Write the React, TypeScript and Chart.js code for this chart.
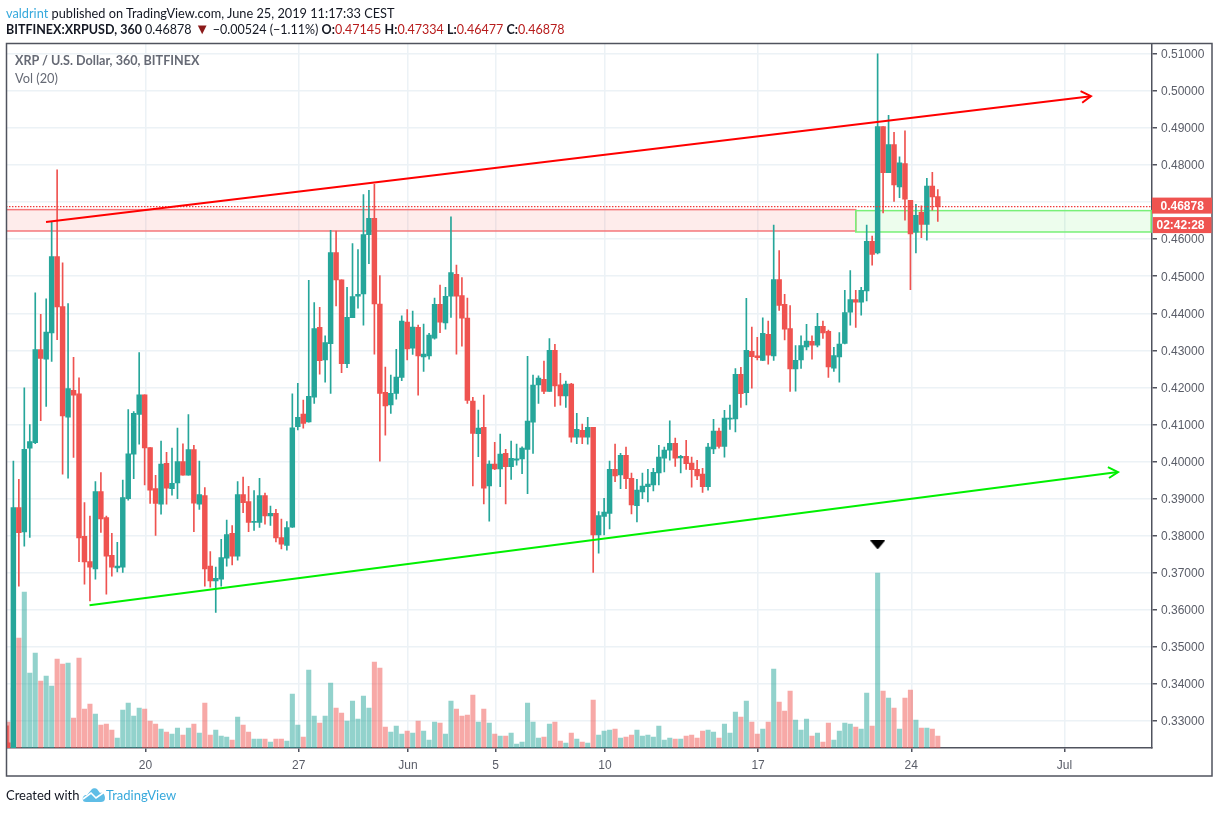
import { useEffect, useRef } from "react";
import { Chart, registerables } from "chart.js";

Chart.register(...registerables);

// 6h candles, XRP/USD, first bar is cut off by the left edge
const opens = [
  0.3241, 0.3225, 0.3876, 0.3810, 0.4036, 0.4051, 0.4302, 0.4276, 0.4347, 0.4553, 0.4418, 0.4120, 0.4192, 0.4183, 0.3798, 0.3730, 0.3710, 0.3919, 0.3849, 0.3747,
  0.3713, 0.3715, 0.3900, 0.4020, 0.4127, 0.4180, 0.4038, 0.3927, 0.3885, 0.3995, 0.3927, 0.3942, 0.4000, 0.3963, 0.4032, 0.3885, 0.3908, 0.3718, 0.3678, 0.3683,
  0.3739, 0.3806, 0.3745, 0.3911, 0.3892, 0.3836, 0.3836, 0.3908, 0.3853, 0.3860, 0.3795, 0.3774, 0.3823, 0.4094, 0.4128, 0.4107, 0.4174, 0.4362, 0.4274, 0.4318,
  0.4564, 0.4490, 0.4264, 0.4388, 0.4446, 0.4452, 0.4612, 0.4656, 0.4425, 0.4187, 0.4153, 0.4184, 0.4227, 0.4376, 0.4306, 0.4362, 0.4282, 0.4285, 0.4333, 0.4424,
  0.4374, 0.4446, 0.4505, 0.4448, 0.4387, 0.4163, 0.4075, 0.4092, 0.3934, 0.3993, 0.3980, 0.4022, 0.3986, 0.4004, 0.4007, 0.4033, 0.4106, 0.4207, 0.4222, 0.4189,
  0.4300, 0.4207, 0.4177, 0.4209, 0.4066, 0.4084, 0.4066, 0.4092, 0.3802, 0.3852, 0.3860, 0.3979, 0.3964, 0.4017, 0.3955, 0.3881, 0.3918, 0.3932, 0.3937, 0.3969,
  0.4009, 0.4031, 0.4049, 0.4010, 0.4014, 0.3996, 0.3979, 0.3966, 0.3932, 0.4034, 0.4082, 0.4041, 0.4114, 0.4115, 0.4235, 0.4186, 0.4297, 0.4285, 0.4273, 0.4343,
  0.4285, 0.4491, 0.4424, 0.4359, 0.4250, 0.4274, 0.4309, 0.4324, 0.4314, 0.4365, 0.4351, 0.4252, 0.4282, 0.4319, 0.4403, 0.4437, 0.4430, 0.4460, 0.4594, 0.4563,
  0.4904, 0.4779, 0.4855, 0.4741, 0.4804, 0.4705, 0.4619, 0.4672, 0.4640, 0.4743, 0.47145,
];
const highs = [
  0.3287, 0.4001, 0.3952, 0.4199, 0.4100, 0.4455, 0.4397, 0.4439, 0.4646, 0.4787, 0.4536, 0.4426, 0.4281, 0.4226, 0.3889, 0.3853, 0.3946, 0.3970, 0.3853, 0.3806,
  0.3782, 0.3950, 0.4140, 0.4135, 0.4294, 0.4180, 0.4038, 0.3963, 0.4055, 0.4025, 0.4036, 0.4090, 0.4048, 0.4127, 0.4044, 0.4001, 0.3930, 0.3757, 0.3715, 0.3790,
  0.3842, 0.3827, 0.3946, 0.3958, 0.3933, 0.3922, 0.3955, 0.3915, 0.3880, 0.3871, 0.3845, 0.3838, 0.4183, 0.4211, 0.4166, 0.4489, 0.4429, 0.4416, 0.4339, 0.4624,
  0.4622, 0.4490, 0.4470, 0.4588, 0.4572, 0.4720, 0.4732, 0.4748, 0.4502, 0.4255, 0.4233, 0.4303, 0.4393, 0.4410, 0.4406, 0.4368, 0.4371, 0.4346, 0.4441, 0.4476,
  0.4470, 0.4660, 0.4530, 0.4496, 0.4441, 0.4173, 0.4139, 0.4179, 0.4002, 0.4052, 0.4074, 0.4033, 0.4055, 0.4047, 0.4040, 0.4284, 0.4233, 0.4231, 0.4271, 0.4332,
  0.4316, 0.4238, 0.4217, 0.4211, 0.4130, 0.4101, 0.4119, 0.4092, 0.3865, 0.3901, 0.4001, 0.4047, 0.4022, 0.4039, 0.3969, 0.3952, 0.3969, 0.3979, 0.3982, 0.4044,
  0.4039, 0.4110, 0.4063, 0.4017, 0.4057, 0.4012, 0.4003, 0.3982, 0.4049, 0.4114, 0.4090, 0.4138, 0.4152, 0.4251, 0.4254, 0.4440, 0.4363, 0.4335, 0.4388, 0.4379,
  0.4638, 0.4569, 0.4451, 0.4421, 0.4313, 0.4339, 0.4370, 0.4339, 0.4400, 0.4379, 0.4355, 0.4308, 0.4348, 0.4462, 0.4515, 0.4462, 0.4470, 0.4638, 0.4608, 0.5100,
  0.4904, 0.4934, 0.4888, 0.4822, 0.4892, 0.4705, 0.4694, 0.4690, 0.4764, 0.4780, 0.47334,
];
const lows = [
  0.3225, 0.3225, 0.3664, 0.3772, 0.3795, 0.4048, 0.4110, 0.4149, 0.4270, 0.4329, 0.3966, 0.3955, 0.4011, 0.3730, 0.3669, 0.3624, 0.3683, 0.3809, 0.3642, 0.3691,
  0.3702, 0.3701, 0.3896, 0.3954, 0.4047, 0.3937, 0.3887, 0.3801, 0.3858, 0.3885, 0.3909, 0.3900, 0.3963, 0.3963, 0.3811, 0.3871, 0.3664, 0.3661, 0.3593, 0.3664,
  0.3718, 0.3721, 0.3734, 0.3862, 0.3811, 0.3814, 0.3822, 0.3831, 0.3828, 0.3783, 0.3764, 0.3761, 0.3822, 0.4085, 0.4090, 0.4106, 0.4157, 0.4236, 0.4214, 0.4184,
  0.4420, 0.4240, 0.4253, 0.4388, 0.4414, 0.4368, 0.4534, 0.4290, 0.4001, 0.4071, 0.4130, 0.4168, 0.4218, 0.4274, 0.4289, 0.4179, 0.4243, 0.4276, 0.4330, 0.4348,
  0.4357, 0.4389, 0.4290, 0.4311, 0.4157, 0.3934, 0.4013, 0.3886, 0.3839, 0.3978, 0.3932, 0.3886, 0.3952, 0.3990, 0.3967, 0.3913, 0.4022, 0.4157, 0.4183, 0.4189,
  0.4149, 0.4152, 0.4146, 0.4052, 0.4048, 0.4048, 0.4047, 0.3701, 0.3753, 0.3802, 0.3818, 0.3946, 0.3927, 0.3927, 0.3859, 0.3837, 0.3900, 0.3891, 0.3921, 0.3937,
  0.3972, 0.4004, 0.3987, 0.3969, 0.3979, 0.3931, 0.3951, 0.3917, 0.3923, 0.4021, 0.4036, 0.4012, 0.4087, 0.4080, 0.4146, 0.4153, 0.4198, 0.4274, 0.4272, 0.4263,
  0.4273, 0.4408, 0.4328, 0.4189, 0.4190, 0.4251, 0.4301, 0.4276, 0.4309, 0.4332, 0.4227, 0.4243, 0.4214, 0.4317, 0.4368, 0.4362, 0.4395, 0.4433, 0.4530, 0.4560,
  0.4671, 0.4779, 0.4702, 0.4712, 0.4651, 0.4464, 0.4563, 0.4604, 0.4597, 0.4678, 0.46477,
];
const closes = [
  0.3225, 0.3876, 0.3808, 0.4033, 0.4054, 0.4302, 0.4278, 0.4349, 0.4553, 0.4417, 0.4123, 0.4197, 0.4179, 0.3794, 0.3729, 0.3715, 0.3919, 0.3845, 0.3745, 0.3715,
  0.3718, 0.3903, 0.4021, 0.4130, 0.4180, 0.4037, 0.3923, 0.3887, 0.3993, 0.3928, 0.3941, 0.4000, 0.3963, 0.4032, 0.3888, 0.3911, 0.3710, 0.3678, 0.3685, 0.3741,
  0.3803, 0.3745, 0.3911, 0.3889, 0.3836, 0.3839, 0.3908, 0.3853, 0.3860, 0.3794, 0.3777, 0.3822, 0.4091, 0.4119, 0.4103, 0.4176, 0.4359, 0.4272, 0.4321, 0.4564,
  0.4490, 0.4264, 0.4389, 0.4445, 0.4451, 0.4612, 0.4656, 0.4425, 0.4184, 0.4150, 0.4184, 0.4228, 0.4379, 0.4304, 0.4363, 0.4285, 0.4290, 0.4341, 0.4424, 0.4376,
  0.4446, 0.4510, 0.4446, 0.4387, 0.4165, 0.4076, 0.4090, 0.3928, 0.3993, 0.3980, 0.4020, 0.3986, 0.4009, 0.4007, 0.4036, 0.4109, 0.4206, 0.4225, 0.4189, 0.4300,
  0.4204, 0.4177, 0.4209, 0.4066, 0.4087, 0.4066, 0.4092, 0.3802, 0.3854, 0.3864, 0.3979, 0.3961, 0.4017, 0.3954, 0.3883, 0.3923, 0.3934, 0.3939, 0.3971, 0.4012,
  0.4031, 0.4049, 0.4009, 0.4014, 0.3994, 0.3978, 0.3961, 0.3932, 0.4039, 0.4082, 0.4041, 0.4117, 0.4117, 0.4235, 0.4183, 0.4300, 0.4283, 0.4280, 0.4346, 0.4287,
  0.4491, 0.4421, 0.4357, 0.4250, 0.4273, 0.4313, 0.4325, 0.4314, 0.4365, 0.4347, 0.4255, 0.4286, 0.4317, 0.4402, 0.4437, 0.4430, 0.4462, 0.4594, 0.4559, 0.4904,
  0.4779, 0.4855, 0.4746, 0.4806, 0.4708, 0.4614, 0.4664, 0.4640, 0.4743, 0.4714, 0.46878,
];
const volumes = [
  26, 60, 110, 156, 75, 95, 67, 72, 62, 89, 84, 85, 30, 90, 39, 44, 34, 23, 24, 18,
  10, 38, 45, 32, 40, 39, 27, 24, 19, 16, 14, 20, 13, 20, 24, 15, 45, 13, 18, 12,
  11, 8, 31, 23, 16, 9, 9, 9, 6, 9, 9, 7, 54, 23, 11, 78, 32, 25, 32, 65,
  40, 35, 27, 47, 29, 52, 40, 86, 80, 21, 16, 22, 14, 17, 15, 27, 17, 8, 26, 25,
  14, 47, 39, 32, 33, 53, 26, 39, 25, 14, 12, 12, 15, 4, 6, 45, 26, 10, 11, 24,
  26, 7, 5, 15, 9, 6, 5, 48, 13, 17, 18, 19, 10, 11, 13, 18, 12, 13, 11, 22,
  8, 10, 9, 9, 12, 13, 10, 17, 18, 16, 10, 24, 15, 36, 31, 47, 26, 14, 19, 26,
  79, 46, 37, 57, 28, 18, 29, 12, 15, 6, 25, 8, 17, 25, 24, 21, 19, 55, 22, 175,
  57, 50, 40, 19, 50, 58, 28, 20, 20, 19, 12,
];

const priceTicks = [0.33, 0.34, 0.35, 0.36, 0.37, 0.38, 0.39, 0.4, 0.41, 0.42, 0.43, 0.44, 0.45, 0.46, 0.47, 0.48, 0.49, 0.5, 0.51];
const hiddenPriceLabel = 0.47; // sits under the last price tag
const dateTickBars = [25.15, 53.15, 73.15, 89.15, 109.15, 137.15, 165.15, 193.15];
const dateTickLabels = ["20", "27", "Jun", "5", "10", "17", "24", "Jul"];

// drawings, in bar index / price
const redTrend = [{ x: 6.97, y: 0.46462 }, { x: 198, y: 0.49857 }];
const redArrow = [{ x: 196.1, y: 0.49992 }, { x: 198, y: 0.49857 }, { x: 196.4, y: 0.4968 }];
const greenTrend = [{ x: 14.92, y: 0.3612 }, { x: 202.95, y: 0.39717 }];
const greenArrow = [{ x: 201.1, y: 0.39852 }, { x: 202.95, y: 0.39717 }, { x: 201.3, y: 0.39556 }];
const lastPrice = 0.46878;
const redZone = { from: -2, to: 155, top: 0.46796, bottom: 0.4622 };
const greenZone = { from: 155, to: 209, top: 0.46769, bottom: 0.46193 };
const markerBar = 159;
const markerPrice = 0.3775;

const UP = "#26a69a";
const DOWN = "#ef5350";
const UP_VOL = "rgba(38,166,154,0.5)";
const DOWN_VOL = "rgba(239,83,80,0.5)";
const GRID = "#ecf2f6";
const FRAME = "#50535e";
const AXIS_TEXT = "#5a5d68";
const AXIS_FONT = "'Liberation Sans', Arial, sans-serif";

const bars = opens.map((_, i) => i);
const isUp = (i: number) => closes[i] >= opens[i];

function makeMarker() {
  const c = document.createElement("canvas");
  c.width = 15;
  c.height = 9;
  const g = c.getContext("2d");
  if (g) {
    g.fillStyle = "#000";
    g.beginPath();
    g.moveTo(0, 0);
    g.lineTo(15, 0);
    g.lineTo(7.5, 9);
    g.closePath();
    g.fill();
  }
  return c;
}

const drawZones = {
  id: "drawZones",
  beforeDatasetsDraw(chart: any) {
    const { ctx, chartArea, scales } = chart;
    const zone = (z: typeof redZone, fill: string, line: string) => {
      const x0 = scales.x.getPixelForValue(z.from);
      const x1 = scales.x.getPixelForValue(z.to);
      const y0 = scales.y.getPixelForValue(z.top);
      const y1 = scales.y.getPixelForValue(z.bottom);
      ctx.fillStyle = fill;
      ctx.fillRect(x0, y0, x1 - x0, y1 - y0);
      ctx.strokeStyle = line;
      ctx.lineWidth = 1.5;
      ctx.strokeRect(x0, y0, x1 - x0, y1 - y0);
    };
    ctx.save();
    ctx.beginPath();
    ctx.rect(chartArea.left, chartArea.top, chartArea.right - chartArea.left, chartArea.bottom - chartArea.top);
    ctx.clip();
    zone(redZone, "rgba(244,67,54,0.1)", "#f5777a");
    zone(greenZone, "rgba(0,230,0,0.07)", "#78f078");
    ctx.restore();
  },
};

const drawFrame = {
  id: "drawFrame",
  afterDraw(chart: any) {
    const { ctx, chartArea, scales } = chart;
    const right = scales.y.right;
    const bottom = scales.x.bottom;
    ctx.save();
    ctx.strokeStyle = FRAME;
    ctx.lineWidth = 1.5;
    ctx.strokeRect(chartArea.left, chartArea.top, right - chartArea.left, bottom - chartArea.top);

    // price and countdown tags on the axis
    const y = scales.y.getPixelForValue(lastPrice);
    ctx.fillStyle = DOWN;
    ctx.fillRect(chartArea.right, y - 9, 60, 16);
    ctx.fillRect(chartArea.right + 1, y + 10.5, 58.5, 16);
    ctx.fillStyle = "#fff";
    ctx.font = `bold 12px ${AXIS_FONT}`;
    ctx.textAlign = "left";
    ctx.textBaseline = "middle";
    ctx.fillText(lastPrice.toFixed(5), chartArea.right + 8.5, y);
    ctx.fillText("02:42:28", chartArea.right + 4.5, y + 19);
    ctx.restore();
  },
};

const textStyle = { position: "absolute", whiteSpace: "nowrap", fontFamily: "Lato, sans-serif" } as const;

export default function App() {
  const chartRef = useRef<HTMLCanvasElement | null>(null);

  useEffect(() => {
    if (!chartRef.current) return;
    const myChart = new Chart(chartRef.current, {
      type: "bar",
      data: {
        datasets: [
          { type: "line", data: redTrend, borderColor: "#ff0000", borderWidth: 2, pointRadius: 0, order: 1 },
          { type: "line", data: redArrow, borderColor: "#ff0000", borderWidth: 2, pointRadius: 0, order: 1 },
          { type: "line", data: greenTrend, borderColor: "#00f000", borderWidth: 2, pointRadius: 0, order: 1 },
          { type: "line", data: greenArrow, borderColor: "#00f000", borderWidth: 2, pointRadius: 0, order: 1 },
          {
            type: "line",
            data: [{ x: -2, y: lastPrice }, { x: 212, y: lastPrice }],
            borderColor: "#f03a3a",
            borderWidth: 1.2,
            borderDash: [1.5, 1.5],
            pointRadius: 0,
            order: 2,
          },
          {
            type: "scatter",
            data: [{ x: markerBar, y: markerPrice }],
            pointStyle: makeMarker(),
            order: 1,
          },
          {
            data: bars.map((i) => ({ x: i, y: [opens[i], closes[i]] })),
            backgroundColor: bars.map((i) => (isUp(i) ? UP : DOWN)),
            barThickness: 4.8,
            minBarLength: 1,
            order: 3,
          },
          {
            data: bars.map((i) => ({ x: i, y: [lows[i], highs[i]] })),
            backgroundColor: bars.map((i) => (isUp(i) ? UP : DOWN)),
            barThickness: 1,
            order: 4,
          },
          {
            data: bars.map((i) => ({ x: i, y: volumes[i] })),
            yAxisID: "vol",
            backgroundColor: bars.map((i) => (isUp(i) ? UP_VOL : DOWN_VOL)),
            barThickness: 4.4,
            order: 5,
          },
        ] as any,
      },
      options: {
        responsive: false,
        animation: false,
        layout: { padding: { left: 6.5, top: 43.5, right: 7, bottom: 37 } },
        datasets: { bar: { grouped: false } },
        plugins: { legend: { display: false }, tooltip: { enabled: false } },
        scales: {
          x: {
            type: "linear",
            offset: false,
            min: -0.256,
            max: 209.16,
            afterFit: (s: any) => {
              s.height = 28;
            },
            afterBuildTicks: (s: any) => {
              s.ticks = dateTickBars.map((value) => ({ value }));
            },
            grid: { color: GRID, lineWidth: 1.5, tickColor: FRAME, tickLength: 4, offset: false },
            border: { color: FRAME, width: 1.5 },
            ticks: {
              autoSkip: false,
              maxRotation: 0,
              padding: 6,
              color: AXIS_TEXT,
              font: { family: AXIS_FONT, size: 12 },
              callback: (_v: any, i: number) => dateTickLabels[i],
            },
          },
          y: {
            position: "right",
            min: 0.32272,
            max: 0.51278,
            afterFit: (s: any) => {
              s.width = 60;
            },
            afterBuildTicks: (s: any) => {
              s.ticks = priceTicks.map((value) => ({ value }));
            },
            grid: { color: GRID, lineWidth: 1.5, tickColor: FRAME, tickLength: 5 },
            border: { color: FRAME, width: 1.5 },
            ticks: {
              autoSkip: false,
              padding: 4,
              labelOffset: 1,
              color: AXIS_TEXT,
              font: { family: AXIS_FONT, size: 12 },
              callback: (v: any) => (v === hiddenPriceLabel ? "" : Number(v).toFixed(5)),
            },
          },
          vol: { display: false, min: 0, max: 704.5 },
        },
      } as any,
      plugins: [drawZones, drawFrame],
    });
    return () => myChart.destroy();
  }, []);

  return (
    <div style={{ position: "fixed", left: 0, top: 0, width: 1219, height: 813, background: "#fff", overflow: "hidden" }}>
      <canvas ref={chartRef} width={1219} height={813} style={{ position: "absolute", left: 0, top: 0 }} />
      <div style={{ ...textStyle, left: 6, top: 5, fontSize: 12.75, color: "#131722" }}>
        <span style={{ color: "#37a9dc" }}>valdrint</span> published on TradingView.com, June 25, 2019 11:17:33 CEST
      </div>
      <div style={{ ...textStyle, left: 6, top: 22, fontSize: 12.5, color: "#131722" }}>
        <b>BITFINEX:XRPUSD, 360</b> 0.46878 <span style={{ color: "#8b1a1a", fontSize: 15, lineHeight: 0 }}>▼</span> −0.00524 (−1.11%){" "}
        <b>O:</b><span style={{ color: "#b71c1c" }}>0.47145</span> <b>H:</b><span style={{ color: "#b71c1c" }}>0.47334</span>{" "}
        <b>L:</b><span style={{ color: "#b71c1c" }}>0.46477</span> <b>C:</b><span style={{ color: "#b71c1c" }}>0.46878</span>
      </div>
      <div style={{ ...textStyle, left: 15, top: 53, fontSize: 12.6, fontWeight: 700, color: "#666a75" }}>XRP / U.S. Dollar, 360, BITFINEX</div>
      <div style={{ ...textStyle, left: 15, top: 70, fontSize: 12.8, color: "#666a75" }}>Vol (20)</div>
      <div style={{ ...textStyle, left: 6, top: 787, fontSize: 13, color: "#131722" }}>Created with</div>
      <svg width="23" height="14" viewBox="0 0 23 14" style={{ position: "absolute", left: 82, top: 788 }}>
        <path d="M1 12 C0 9 2 7 5 7 L10 1 C11 0 14 0 15 1 L18 5 C21 4 23 7 23 10 C23 13 21 14 19 14 L4 14 C2 14 1 13 1 12 Z" fill="#5fbde6" />
        <path d="M1 11 L9 5 L14 10 L21 5" fill="none" stroke="#fff" strokeWidth="1.6" />
      </svg>
      <div style={{ ...textStyle, left: 106, top: 787, fontSize: 13, color: "#37a9dc" }}>TradingView</div>
    </div>
  );
}
